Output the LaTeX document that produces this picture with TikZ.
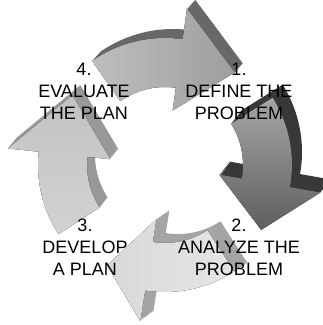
\documentclass[tikz,border=0pt]{standalone}
\usepackage{fontspec}
\setmainfont{Liberation Sans}
\definecolor{topA}{HTML}{BEBEBE}
\definecolor{topB}{HTML}{9E9E9E}
\definecolor{topside}{HTML}{686868}
\definecolor{rightA}{HTML}{A6A6A6}
\definecolor{rightB}{HTML}{5E5E5E}
\definecolor{rightside}{HTML}{383838}
\definecolor{bottomA}{HTML}{D8D8D8}
\definecolor{bottomB}{HTML}{E6E6E6}
\definecolor{bottomside}{HTML}{A4A4A4}
\definecolor{leftA}{HTML}{C2C2C2}
\definecolor{leftB}{HTML}{D2D2D2}
\definecolor{leftside}{HTML}{989898}
\begin{document}
\begin{tikzpicture}[x=1pt, y=1pt,
    stagetext/.style={align=center, inner sep=0pt, font=\fontsize{18}{22}\selectfont}]
    \useasboundingbox (0,0) rectangle (323,325);
    \def\rin{78} \def\rout{127} \def\hin{55} \def\hout{158} \def\rtip{116}

    % the four arrows of the cycle, side faces first
    \begin{scope}[shift={(165,160)}]
    \foreach \tail/\base/\tip/\dx/\dy/\side/\ca/\cb/\ang in {
        125/82/53/8/9/topside/topA/topB/90,
        32/-10/-34/10/13/rightside/rightA/rightB/0,
        -57/-99/-120/13/9/bottomside/bottomA/bottomB/90,
        213/174/143/8/10/leftside/leftA/leftB/0} {
        \foreach \k in {1,...,12}
            \fill[fill=\side, shift={({\dx*\k/12},{\dy*\k/12})}]
                (\tail:\rin) arc[start angle=\tail, end angle=\base, radius=\rin]
                -- (\base:\hin) -- (\tip:\rtip) -- (\base:\hout)
                -- (\base:\rout) arc[start angle=\base, end angle=\tail, radius=\rout] -- cycle;
        \fill[top color=\ca, bottom color=\cb, shading angle=\ang]
            (\tail:\rin) arc[start angle=\tail, end angle=\base, radius=\rin]
            -- (\base:\hin) -- (\tip:\rtip) -- (\base:\hout)
            -- (\base:\rout) arc[start angle=\base, end angle=\tail, radius=\rout] -- cycle;
    }
    \end{scope}

    \node[stagetext] (define)   at (239,233.5) {1.\\DEFINE THE\\PROBLEM};
    \node[stagetext] (analyze)  at (239,78)    {2.\\ANALYZE THE\\PROBLEM};
    \node[stagetext] (develop)  at (85,78)     {3.\\DEVELOP\\A PLAN};
    \node[stagetext] (evaluate) at (84,233.5)  {4.\\EVALUATE\\THE PLAN};
\end{tikzpicture}
\end{document}
